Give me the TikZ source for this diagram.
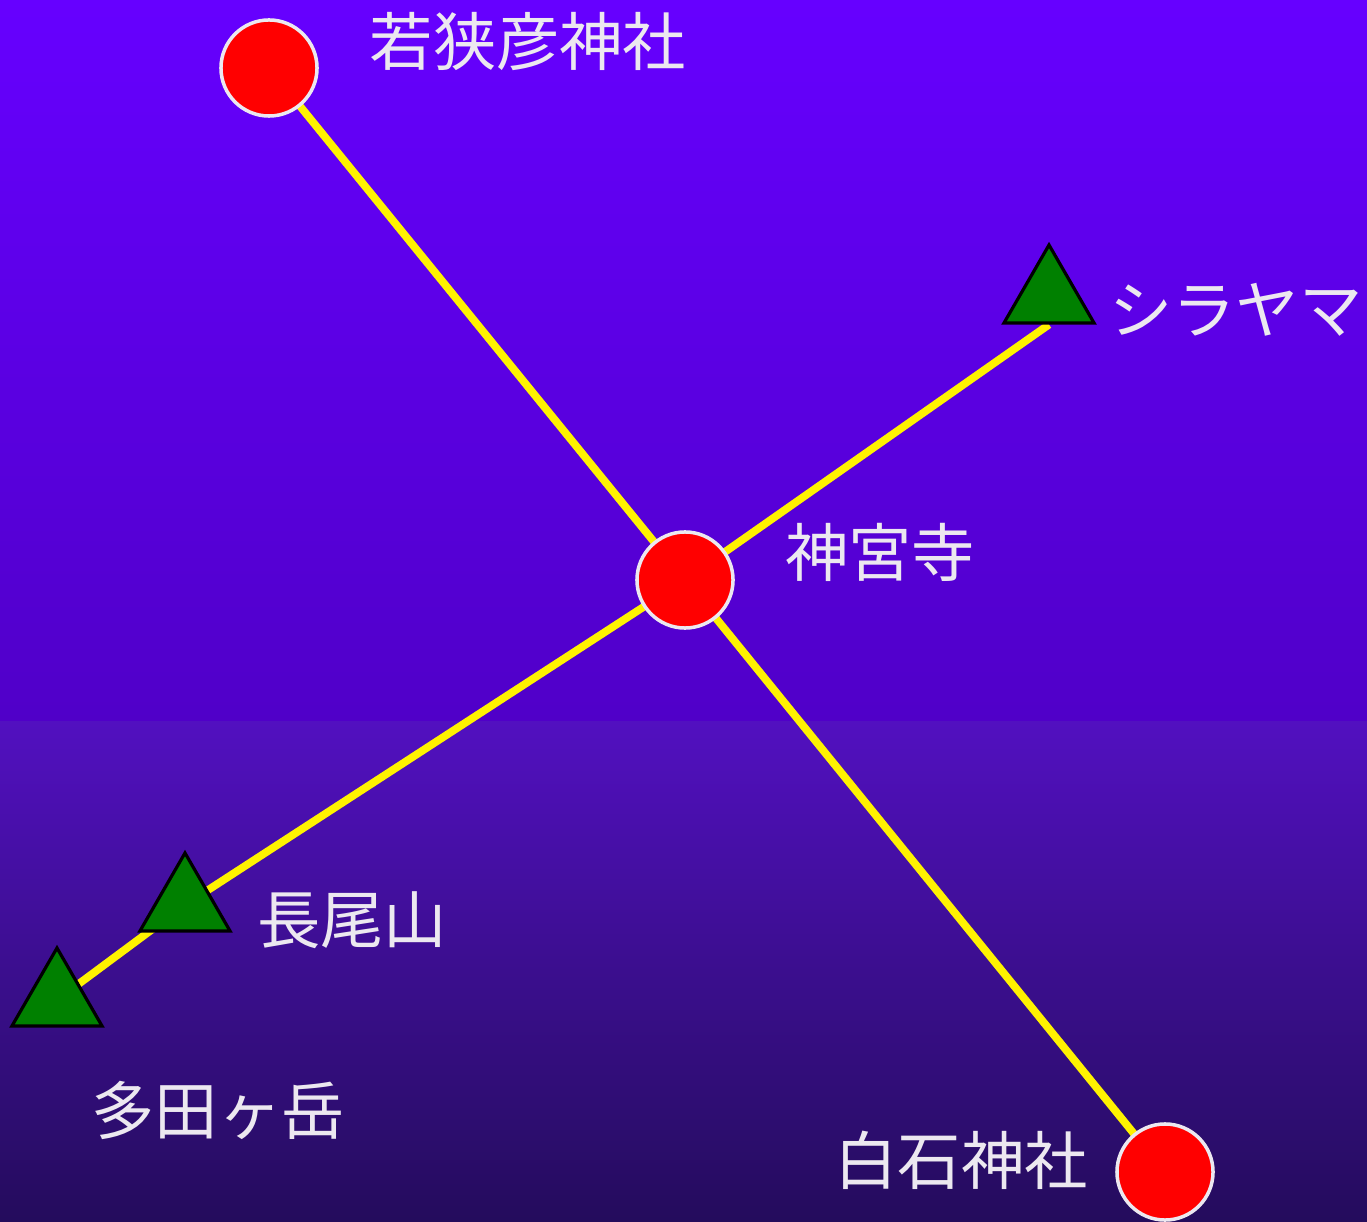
\documentclass[tikz,border=0pt]{standalone}
\usepackage{fontspec}
\newfontfamily\jpfont{Noto Sans CJK JP}
\usetikzlibrary{shapes.geometric}
\definecolor{skytop}{RGB}{102,0,255}
\definecolor{skymid}{RGB}{80,0,200}
\definecolor{groundtop}{RGB}{82,16,192}
\definecolor{groundbot}{RGB}{36,12,92}
\definecolor{labelgray}{RGB}{236,232,240}
\definecolor{peakgreen}{RGB}{0,128,0}
\pgfdeclarelayer{bg}
\pgfdeclarelayer{edges}
\pgfsetlayers{bg,edges,main}
\begin{document}
\begin{tikzpicture}[x=0.01cm, y=-0.01cm,
        shrine/.style={circle, draw=labelgray, line width=1pt, fill=red, inner sep=0pt, minimum size=0.96cm},
        peak/.style={regular polygon, regular polygon sides=3, draw=black, line width=0.9pt, fill=peakgreen, inner sep=0pt, minimum size=1.04cm},
        place/.style={text=labelgray, font=\jpfont\fontsize{18}{20}\selectfont, inner sep=0pt},
        ley/.style={draw=yellow, line width=2.2pt}
      ]
      \useasboundingbox (0, 0) rectangle (1367, 1222);
      % background
      \begin{pgfonlayer}{bg}
        \shade[top color=skytop, bottom color=skymid] (0, 0) rectangle (1367, 721);
        \shade[top color=groundtop, bottom color=groundbot] (0, 721) rectangle (1367, 1222);
      \end{pgfonlayer}
      % shrines
      \node[shrine] at (269, 68) (wakasa) {};
      \node[shrine] at (685, 580) (jinguji) {};
      \node[shrine] at (1165, 1172) (shiroishi) {};
      % peaks
      \node[peak] at (1049, 297) (shirayama) {};
      \node[peak] at (185, 905) (nagao) {};
      \node[peak] at (57, 1000) (taga) {};
      % edges
      \begin{pgfonlayer}{edges}
        \draw[ley] (wakasa.center) -- (jinguji.center) -- (shiroishi.center);
        \draw[ley] (shirayama.south) -- (jinguji.center) -- (nagao.center) -- (taga.center);
      \end{pgfonlayer}
      % labels
      \node[place] at (528, 42) (wakasalbl) {若狭彦神社};
      \node[place] at (880, 552) (jingujilbl) {神宮寺};
      \node[place] at (961, 1160) (shiroishilbl) {白石神社};
      \node[place, anchor=east] at (1363, 310) (shirayamalbl) {シラヤマ};
      \node[place] at (352, 920) (nagaolbl) {長尾山};
      \node[place] at (218, 1110) (tagalbl) {多田ヶ岳};
  \end{tikzpicture}
\end{document}
